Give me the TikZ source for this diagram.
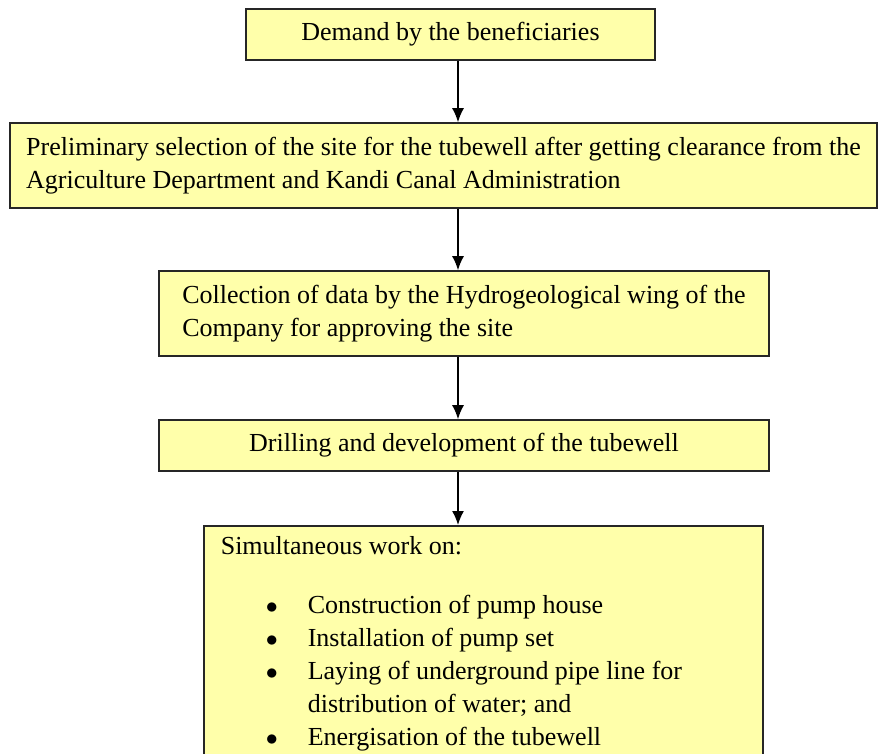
\documentclass[tikz,border=0pt]{standalone}
\usepackage{fontspec}
\setmainfont{Liberation Serif}
\usetikzlibrary{arrows.meta}
\definecolor{boxfill}{HTML}{FFFFAA}
\tikzset{
  stage/.style={draw=black!85, line width=0.8pt, fill=boxfill, inner sep=0pt,
    font=\fontsize{13}{16.5}\selectfont},
  flow/.style={line width=0.75pt, -{Latex[length=7pt,width=6pt]}}
}
\newcommand{\worksitem}{\hspace*{22.5pt}\makebox[21pt][l]{$\bullet$}}
\begin{document}
\begin{tikzpicture}[x=0.5pt,y=-0.5pt]
  \useasboundingbox (0,0) rectangle (878,754);
  \node[stage, minimum width=204.5pt, minimum height=25.5pt] (demand) at (450.5,34.5)
    {Demand by the beneficiaries};
  \node[stage, align=left, minimum width=433.5pt, minimum height=42.5pt] (select) at (443.5,165.5)
    {Preliminary selection of the site for the tubewell after getting clearance from the\\
     Agriculture Department and Kandi Canal Administration};
  \node[stage, align=left, minimum width=305pt, minimum height=42.5pt] (collect) at (464,313.5)
    {Collection of data by the Hydrogeological wing of the\\
     Company for approving the site};
  \node[stage, minimum width=305pt, minimum height=25.5pt] (drill) at (464,445.5)
    {Drilling and development of the tubewell};
  \node[stage, anchor=north west, align=flush left, text width=262.5pt,
        inner xsep=8.5pt, inner ysep=5.5pt] (works) at (203,525)
    {Simultaneous work on:\\[13pt]
     \worksitem Construction of pump house\\
     \worksitem Installation of pump set\\
     \worksitem Laying of underground pipe line for\\
     \hspace*{43.5pt}distribution of water; and\\
     \worksitem Energisation of the tubewell\rule[-10pt]{0pt}{10pt}};
  % arrows all run down the same line
  \coordinate (spine) at (458,0);
  \draw[flow] (demand.south -| spine) -- (select.north -| spine);
  \draw[flow] (select.south -| spine) -- (collect.north -| spine);
  \draw[flow] (collect.south -| spine) -- (drill.north -| spine);
  \draw[flow] (drill.south -| spine) -- (works.north -| spine);
\end{tikzpicture}
\end{document}
